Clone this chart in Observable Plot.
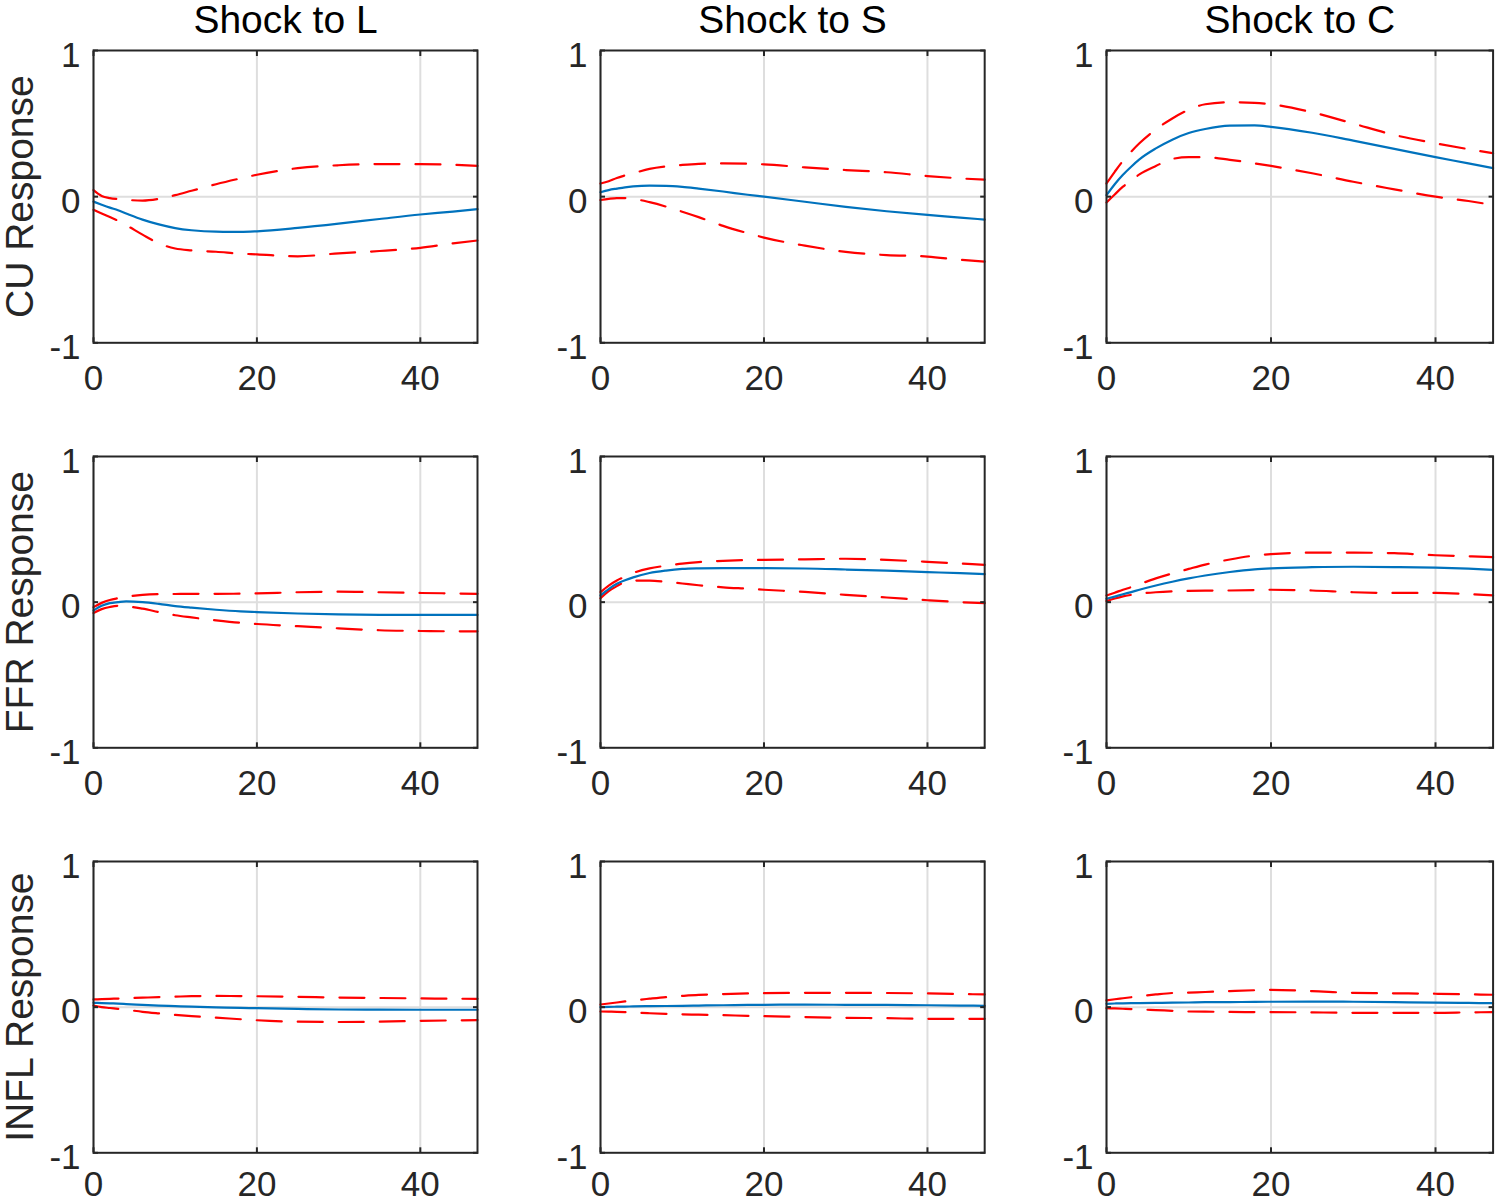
<!DOCTYPE html>
<html>
<head>
<meta charset="utf-8">
<script src="https://cdn.jsdelivr.net/npm/d3@7"></script>
<script src="https://cdn.jsdelivr.net/npm/@observablehq/plot@0.6"></script>
<style>
html, body { margin: 0; padding: 0; background: #fff; overflow: hidden; }
#chart { position: relative; width: 1495px; height: 1203px; }
#chart svg { position: absolute; overflow: visible; }
</style>
</head>
<body>
<div id="chart"></div>
<script>
// ---- data ----
const horizon = [0, 1, 2, 3, 4, 6, 8, 10, 12, 15, 18, 20, 25, 30, 35, 40, 44, 47];
const columnTitles = ["Shock to L", "Shock to S", "Shock to C"];
const rowLabels = ["CU Response", "FFR Response", "INFL Response"];
const xTicks = [0, 20, 40];
const yTicks = [-1, 0, 1];

// CU response
const cuL     = [-0.034, -0.055, -0.075, -0.093, -0.115, -0.157, -0.19, -0.215, -0.23, -0.24, -0.241, -0.237, -0.214, -0.185, -0.153, -0.122, -0.102, -0.085];
const cuLLow  = [-0.09, -0.115, -0.14, -0.165, -0.195, -0.26, -0.32, -0.355, -0.368, -0.377, -0.39, -0.395, -0.408, -0.388, -0.372, -0.35, -0.32, -0.30];
const cuLHigh = [0.045, 0.005, -0.01, -0.017, -0.022, -0.027, -0.015, 0.01, 0.04, 0.085, 0.125, 0.15, 0.195, 0.215, 0.223, 0.222, 0.218, 0.21];

const cuS     = [0.03, 0.045, 0.055, 0.064, 0.07, 0.075, 0.074, 0.067, 0.055, 0.035, 0.013, 0.0, -0.035, -0.07, -0.1, -0.125, -0.143, -0.157];
const cuSLow  = [-0.023, -0.015, -0.01, -0.01, -0.015, -0.038, -0.068, -0.103, -0.14, -0.2, -0.25, -0.28, -0.335, -0.378, -0.4, -0.41, -0.432, -0.445];
const cuSHigh = [0.09, 0.105, 0.128, 0.145, 0.16, 0.19, 0.207, 0.217, 0.224, 0.227, 0.225, 0.221, 0.2, 0.182, 0.167, 0.141, 0.125, 0.116];

const cuC     = [0.01, 0.085, 0.15, 0.205, 0.255, 0.33, 0.39, 0.435, 0.463, 0.486, 0.488, 0.478, 0.437, 0.383, 0.327, 0.27, 0.228, 0.195];
const cuCLow  = [-0.04, 0.015, 0.068, 0.11, 0.152, 0.21, 0.258, 0.27, 0.27, 0.252, 0.228, 0.21, 0.16, 0.102, 0.05, 0.0, -0.03, -0.057];
const cuCHigh = [0.09, 0.17, 0.245, 0.308, 0.365, 0.46, 0.535, 0.595, 0.632, 0.646, 0.642, 0.632, 0.577, 0.5, 0.422, 0.365, 0.325, 0.297];

// FFR response
const ffrL     = [-0.057, -0.025, -0.007, 0.0, 0.005, 0.0, -0.012, -0.027, -0.038, -0.052, -0.063, -0.068, -0.078, -0.084, -0.087, -0.088, -0.088, -0.088];
const ffrLLow  = [-0.075, -0.048, -0.033, -0.025, -0.028, -0.045, -0.068, -0.09, -0.105, -0.125, -0.142, -0.15, -0.165, -0.18, -0.193, -0.198, -0.2, -0.2];
const ffrLHigh = [-0.034, -0.005, 0.015, 0.027, 0.037, 0.05, 0.055, 0.056, 0.057, 0.057, 0.058, 0.06, 0.068, 0.072, 0.068, 0.063, 0.06, 0.057];

const ffrS     = [0.046, 0.09, 0.126, 0.15, 0.17, 0.2, 0.217, 0.228, 0.232, 0.234, 0.234, 0.233, 0.231, 0.224, 0.216, 0.206, 0.199, 0.192];
const ffrSLow  = [0.027, 0.075, 0.11, 0.138, 0.148, 0.148, 0.14, 0.128, 0.116, 0.102, 0.092, 0.085, 0.07, 0.05, 0.032, 0.013, 0.0, -0.007];
const ffrSHigh = [0.069, 0.114, 0.149, 0.175, 0.2, 0.232, 0.25, 0.265, 0.275, 0.284, 0.289, 0.29, 0.294, 0.298, 0.29, 0.277, 0.265, 0.256];

const ffrC     = [0.023, 0.038, 0.054, 0.069, 0.085, 0.114, 0.14, 0.163, 0.183, 0.207, 0.225, 0.232, 0.24, 0.243, 0.241, 0.237, 0.23, 0.222];
const ffrCLow  = [0.007, 0.025, 0.04, 0.05, 0.058, 0.068, 0.074, 0.077, 0.079, 0.08, 0.083, 0.085, 0.08, 0.068, 0.063, 0.063, 0.055, 0.046];
const ffrCHigh = [0.046, 0.065, 0.085, 0.103, 0.123, 0.163, 0.197, 0.228, 0.258, 0.293, 0.32, 0.33, 0.34, 0.34, 0.336, 0.322, 0.315, 0.309];

// INFL response
const inflL     = [0.03, 0.028, 0.026, 0.024, 0.021, 0.016, 0.011, 0.007, 0.003, -0.001, -0.005, -0.007, -0.012, -0.016, -0.017, -0.018, -0.018, -0.018];
const inflLLow  = [0.011, 0.0, -0.006, -0.012, -0.018, -0.032, -0.043, -0.053, -0.062, -0.072, -0.083, -0.09, -0.1, -0.102, -0.1, -0.094, -0.091, -0.089];
const inflLHigh = [0.053, 0.055, 0.057, 0.059, 0.061, 0.065, 0.069, 0.072, 0.075, 0.077, 0.076, 0.075, 0.071, 0.066, 0.063, 0.06, 0.058, 0.057];

const inflS     = [0.0, 0.002, 0.003, 0.004, 0.005, 0.007, 0.008, 0.009, 0.011, 0.013, 0.015, 0.016, 0.017, 0.016, 0.015, 0.013, 0.011, 0.009];
const inflSLow  = [-0.03, -0.031, -0.032, -0.034, -0.037, -0.042, -0.046, -0.049, -0.052, -0.055, -0.06, -0.062, -0.068, -0.073, -0.076, -0.08, -0.08, -0.08];
const inflSHigh = [0.018, 0.025, 0.032, 0.039, 0.046, 0.058, 0.069, 0.077, 0.084, 0.09, 0.094, 0.096, 0.098, 0.098, 0.097, 0.094, 0.09, 0.087];

const inflC     = [0.023, 0.025, 0.026, 0.027, 0.028, 0.029, 0.031, 0.032, 0.034, 0.035, 0.036, 0.037, 0.038, 0.037, 0.034, 0.031, 0.029, 0.027];
const inflCLow  = [-0.007, -0.009, -0.011, -0.013, -0.016, -0.02, -0.025, -0.03, -0.031, -0.033, -0.034, -0.034, -0.036, -0.039, -0.039, -0.039, -0.036, -0.034];
const inflCHigh = [0.046, 0.054, 0.061, 0.068, 0.075, 0.087, 0.097, 0.1, 0.104, 0.11, 0.116, 0.119, 0.11, 0.098, 0.095, 0.092, 0.088, 0.085];

// ---- panel table built from the arrays (row = response, col = shock) ----
const panelSeries = [
  [[cuL, cuLLow, cuLHigh], [cuS, cuSLow, cuSHigh], [cuC, cuCLow, cuCHigh]],
  [[ffrL, ffrLLow, ffrLHigh], [ffrS, ffrSLow, ffrSHigh], [ffrC, ffrCLow, ffrCHigh]],
  [[inflL, inflLLow, inflLHigh], [inflS, inflSLow, inflSHigh], [inflC, inflCLow, inflCHigh]]
];

// ---- layout ----
const colLeft = [92.7, 600.2, 1105.7];
const colWidth = [384, 384.2, 386.6];
const rowTop = [50, 456, 861];
const rowHeight = [292.3, 291.3, 291.3];
const xLabelPad = [22, 22, 18];
const mL = 93, mR = 4, mT = 50, mB = 50;
const FONT = "'Liberation Sans', Arial, Helvetica, sans-serif";
const fmt = d => String(d);

const container = document.getElementById("chart");

for (let r = 0; r < 3; r++) {
  for (let c = 0; c < 3; c++) {
    const [mid, lo, hi] = panelSeries[r][c];
    const rows = horizon.map((h, i) => ({h, mid: mid[i], lo: lo[i], hi: hi[i]}));
    const marks = [
      Plot.gridX(xTicks, {stroke: "#dedede", strokeOpacity: 1, strokeWidth: 2}),
      Plot.gridY([0], {stroke: "#dedede", strokeOpacity: 1, strokeWidth: 2}),
      Plot.line(rows, {x: "h", y: "hi", stroke: "#ff0000", strokeWidth: 2.2, strokeDasharray: "25,16", curve: "monotone-x"}),
      Plot.line(rows, {x: "h", y: "lo", stroke: "#ff0000", strokeWidth: 2.2, strokeDasharray: "25,16", curve: "monotone-x"}),
      Plot.line(rows, {x: "h", y: "mid", stroke: "#0072bd", strokeWidth: 2.2, curve: "monotone-x"}),
      Plot.frame({stroke: "#262626", strokeWidth: 2}),
      Plot.axisX(xTicks, {anchor: "bottom", tickSize: 0, tickPadding: xLabelPad[r], fontSize: 35, fill: "#262626", tickFormat: fmt, label: null}),
      Plot.axisX(xTicks, {anchor: "bottom", tickSize: -5, fill: "none", stroke: "#262626", strokeWidth: 2, label: null}),
      Plot.axisX(xTicks, {anchor: "top", tickSize: -5, fill: "none", stroke: "#262626", strokeWidth: 2, label: null}),
      Plot.axisY(yTicks, {anchor: "left", tickSize: 0, tickPadding: 13, dy: 5, fontSize: 35, fill: "#262626", tickFormat: fmt, label: null}),
      Plot.axisY(yTicks, {anchor: "left", tickSize: -5, fill: "none", stroke: "#262626", strokeWidth: 2, label: null}),
      Plot.axisY(yTicks, {anchor: "right", tickSize: -5, fill: "none", stroke: "#262626", strokeWidth: 2, label: null})
    ];
    if (r === 0) {
      marks.push(Plot.text([columnTitles[c]], {frameAnchor: "top", textAnchor: "middle", lineAnchor: "middle", dy: -29.5, fontSize: 39, fill: "#000"}));
    }
    if (c === 0) {
      marks.push(Plot.text([rowLabels[r]], {frameAnchor: "left", textAnchor: "middle", lineAnchor: "middle", rotate: -90, dx: -73, fontSize: 39, fill: "#262626"}));
    }
    const svg = Plot.plot({
      width: mL + colWidth[c] + mR,
      height: mT + rowHeight[r] + mB,
      marginLeft: mL, marginRight: mR, marginTop: mT, marginBottom: mB,
      style: {fontFamily: FONT, background: "transparent", overflow: "visible", maxWidth: "none"},
      x: {domain: [0, 47]},
      y: {domain: [-1, 1]},
      marks
    });
    svg.style.left = (colLeft[c] - mL) + "px";
    svg.style.top = (rowTop[r] - mT) + "px";
    container.appendChild(svg);
  }
}
</script>
</body>
</html>
